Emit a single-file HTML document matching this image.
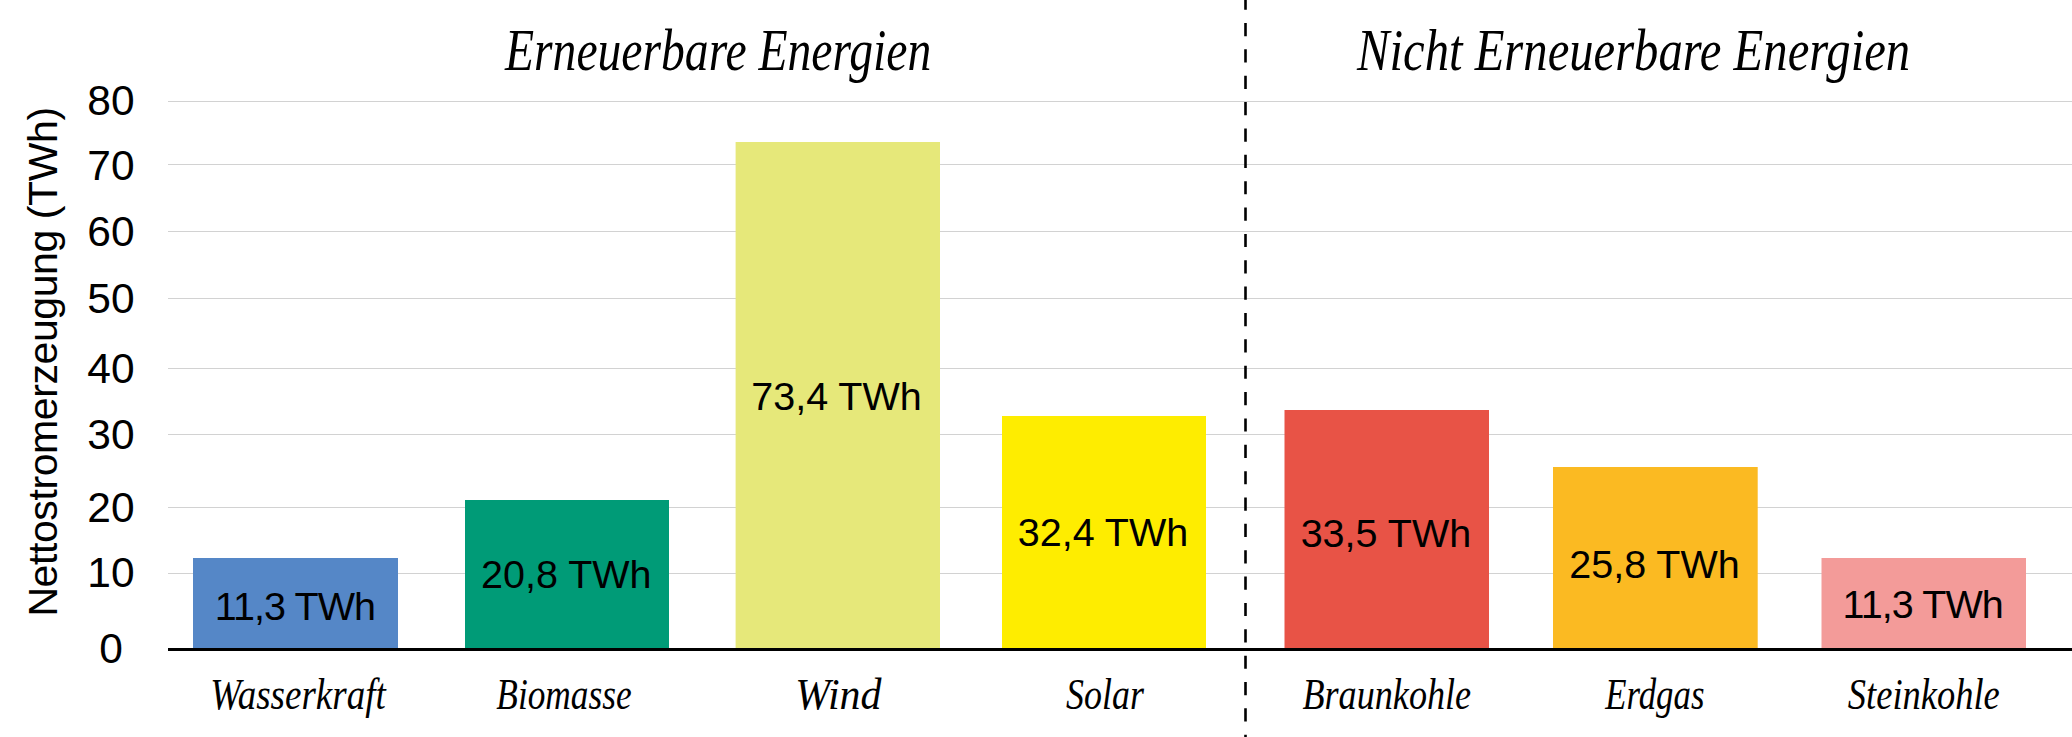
<!DOCTYPE html>
<html><head><meta charset="utf-8">
<style>
html,body{margin:0;padding:0;background:#fff;}
body{width:2072px;height:737px;overflow:hidden;position:relative;}
svg{position:absolute;left:0;top:0;display:block;}
.s{font-family:"Liberation Sans",sans-serif;fill:#000;}
.i{font-family:"Liberation Serif",serif;font-style:italic;fill:#000;}
</style></head><body>
<svg width="2072" height="737" viewBox="0 0 2072 737">
<g stroke="#d2d2d2" stroke-width="1">
<line x1="168" x2="2072" y1="101.5" y2="101.5"/>
<line x1="168" x2="2072" y1="164.5" y2="164.5"/>
<line x1="168" x2="2072" y1="231.5" y2="231.5"/>
<line x1="168" x2="2072" y1="298.5" y2="298.5"/>
<line x1="168" x2="2072" y1="368.5" y2="368.5"/>
<line x1="168" x2="2072" y1="434.5" y2="434.5"/>
<line x1="168" x2="2072" y1="507.5" y2="507.5"/>
<line x1="168" x2="2072" y1="573.5" y2="573.5"/>
</g>
<rect x="193" y="558" width="205" height="91" fill="#5587c7"/>
<rect x="465" y="500" width="204" height="149" fill="#009b77"/>
<rect x="735.6" y="142" width="204.4" height="507" fill="#e6e87a"/>
<rect x="1002" y="416" width="204" height="233" fill="#feed00"/>
<rect x="1284.5" y="410" width="204.5" height="239" fill="#e85346"/>
<rect x="1553" y="467" width="204.7" height="182" fill="#fbba22"/>
<rect x="1821.5" y="558" width="204.5" height="91" fill="#f39b99"/>
<rect x="168" y="648" width="1904" height="3" fill="#000"/>
<line x1="1245.5" x2="1245.5" y1="0" y2="737" stroke="#000" stroke-width="2.6" stroke-dasharray="13.18 13.18" stroke-dashoffset="3.35"/>

<g class="s" font-size="42.5" text-anchor="middle">
<text x="111" y="115">80</text>
<text x="111" y="180">70</text>
<text x="111" y="246">60</text>
<text x="111" y="313">50</text>
<text x="111" y="383">40</text>
<text x="111" y="448.5">30</text>
<text x="111" y="522">20</text>
<text x="111" y="587">10</text>
<text x="111" y="663">0</text>
</g>
<text class="s" font-size="41" letter-spacing="-0.41" transform="translate(57,616.6) rotate(-90)">Nettostromerzeugung (TWh)</text>

<g class="s" font-size="39.5" text-anchor="middle">
<text x="295" y="620" letter-spacing="-0.9">11,3 TWh</text>
<text x="566.3" y="587.6">20,8 TWh</text>
<text x="836.5" y="410.3">73,4 TWh</text>
<text x="1103" y="546.3">32,4 TWh</text>
<text x="1385.9" y="546.7">33,5 TWh</text>
<text x="1654.5" y="577.8">25,8 TWh</text>
<text x="1922.7" y="617.7" letter-spacing="-0.9">11,3 TWh</text>
</g>

<g class="i" font-size="45" text-anchor="middle">
<text transform="translate(298,709.4) scale(0.822,1)">Wasserkraft</text>
<text transform="translate(564,709.3) scale(0.785,1)">Biomasse</text>
<text transform="translate(838.4,709) scale(0.931,1)">Wind</text>
<text transform="translate(1105,709) scale(0.798,1)">Solar</text>
<text transform="translate(1386.8,709.4) scale(0.804,1)">Braunkohle</text>
<text transform="translate(1654.8,709) scale(0.774,1)">Erdgas</text>
<text transform="translate(1923.8,709) scale(0.811,1)">Steinkohle</text>
</g>

<g class="i" font-size="60" text-anchor="middle">
<text transform="translate(718.1,70.4) scale(0.794,1)">Erneuerbare Energien</text>
<text transform="translate(1633.6,70.4) scale(0.811,1)">Nicht Erneuerbare Energien</text>
</g>
</svg>
</body></html>
